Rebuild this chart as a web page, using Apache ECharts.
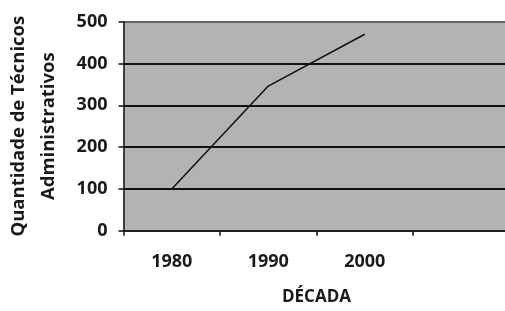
<!DOCTYPE html>
<html>
<head>
<meta charset="utf-8">
<script src="https://cdn.jsdelivr.net/npm/echarts@6/dist/echarts.min.js"></script>
<style>
  html, body { margin: 0; padding: 0; background: #fff; }
  #chart { width: 505px; height: 311px; }
</style>
</head>
<body>
<div id="chart"></div>
<script>
// dados do gráfico
const decadas = ['1980', '1990', '2000', '']
const tecnicos = [100, 346, 470, null]
const yTicks = [0, 100, 200, 300, 400, 500]

const chart = echarts.init(document.getElementById('chart'))
const fonte = '"Open Sans", sans-serif'

const option = {
  animation: false,
  grid: {
    left: 123.5,
    right: -4.5,
    top: 21.7,
    bottom: 80.3,
    outerBoundsMode: 'none',
    containLabel: false,
    show: true,
    backgroundColor: '#b3b3b3',
    borderWidth: 0
  },
  xAxis: {
    type: 'category',
    data: decadas,
    boundaryGap: true,
    name: 'DÉCADA',
    nameLocation: 'middle',
    nameGap: 58,
    nameTextStyle: { fontFamily: fonte, fontWeight: 'bold', fontSize: 17, color: '#1a1a1a' },
    axisLine: { lineStyle: { color: '#111', width: 1.5 } },
    axisTick: { show: true, length: 5, lineStyle: { color: '#111', width: 1.5 } },
    axisLabel: { margin: 22, fontFamily: fonte, fontWeight: 'bold', fontSize: 18, color: '#1a1a1a' },
    splitLine: { show: false }
  },
  yAxis: {
    type: 'value',
    min: yTicks[0],
    max: yTicks[yTicks.length - 1],
    interval: 100,
    name: 'Quantidade de Técnicos\nAdministrativos',
    nameLocation: 'middle',
    nameGap: 60,
    nameTextStyle: { fontFamily: fonte, fontWeight: 'bold', fontSize: 18.5, color: '#1a1a1a', lineHeight: 30 },
    axisLine: { show: true, lineStyle: { color: '#111', width: 1.5 } },
    axisTick: { show: true, length: 5, lineStyle: { color: '#111', width: 1.5 } },
    axisLabel: { margin: 16, fontFamily: fonte, fontWeight: 'bold', fontSize: 18, color: '#1a1a1a' },
    splitLine: {
      show: true,
      lineStyle: { color: ['#555', '#111', '#111', '#111', '#111', '#666'], width: 2 }
    }
  },
  series: [
    {
      type: 'line',
      data: tecnicos,
      symbol: 'none',
      lineStyle: { color: '#111', width: 1.5 }
    }
  ]
}
chart.setOption(option)
</script>
</body>
</html>
